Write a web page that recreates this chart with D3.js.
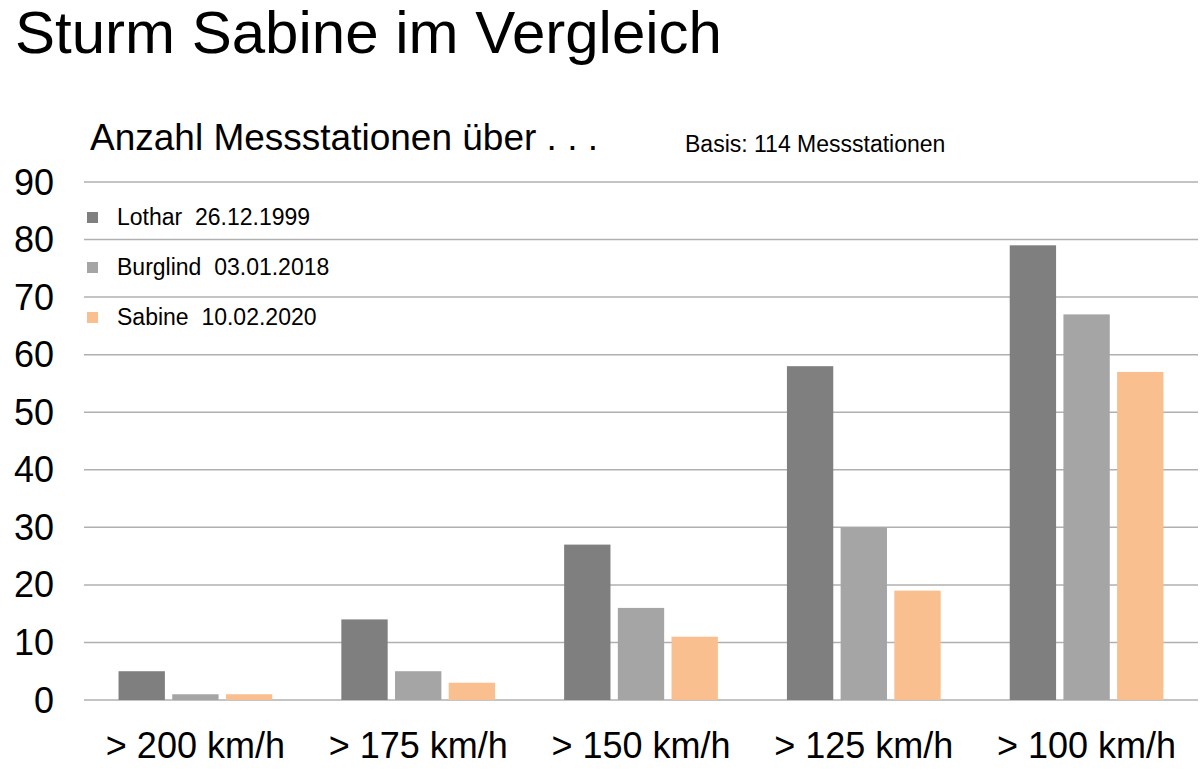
<!DOCTYPE html>
<html>
<head>
<meta charset="utf-8">
<script src="https://cdn.jsdelivr.net/npm/d3@7"></script>
<style>
  html, body { margin: 0; padding: 0; background: #fff; }
  svg { display: block; font-family: "Liberation Sans", Arial, sans-serif; }
  text { white-space: pre; }
</style>
</head>
<body>
<svg id="chart" width="1200" height="774"></svg>
<script>
const categories = ["> 200 km/h", "> 175 km/h", "> 150 km/h", "> 125 km/h", "> 100 km/h"];
const seriesNames = ["Lothar  26.12.1999", "Burglind  03.01.2018", "Sabine  10.02.2020"];
const lothar = [5, 14, 27, 58, 79];
const burglind = [1, 5, 16, 30, 67];
const sabine = [1, 3, 11, 19, 57];
const yTicks = [0, 10, 20, 30, 40, 50, 60, 70, 80, 90];
const colors = ["#7f7f7f", "#a5a5a5", "#f9bf8f"];

const seriesValues = [lothar, burglind, sabine];
const svg = d3.select("#chart");

const x0 = d3.scaleBand().domain(categories).range([84, 1198]).paddingInner(0.31).paddingOuter(0.155);
const x1 = d3.scaleBand().domain(d3.range(seriesNames.length)).range([0, x0.bandwidth()]).paddingInner(0.137);
const y = d3.scaleLinear().domain([0, 90]).range([700, 182]);

// Title
svg.append("text").attr("x", 15).attr("y", 53).attr("font-size", 60).attr("fill", "#000")
  .text("Sturm Sabine im Vergleich");
svg.append("text").attr("x", 90).attr("y", 150).attr("font-size", 37).attr("fill", "#000")
  .text("Anzahl Messstationen über . . .");
svg.append("text").attr("x", 685).attr("y", 152).attr("font-size", 23).attr("fill", "#000")
  .text("Basis: 114 Messstationen");

// Gridlines
svg.append("g").selectAll("line").data(yTicks).join("line")
  .attr("x1", 84).attr("x2", 1198)
  .attr("y1", d => y(d)).attr("y2", d => y(d))
  .attr("stroke", "#b0b0b0").attr("stroke-width", 1.5);

// Y tick labels
svg.append("g").selectAll("text").data(yTicks).join("text")
  .attr("x", 54).attr("y", d => y(d)).attr("dy", "0.35em")
  .attr("text-anchor", "end").attr("font-size", 36).attr("fill", "#000")
  .text(d => d);

// Bars
const groups = svg.append("g").selectAll("g").data(categories).join("g")
  .attr("transform", c => `translate(${x0(c)},0)`);
groups.selectAll("rect")
  .data((c, ci) => seriesValues.map((vals, si) => ({ si, v: vals[ci] })))
  .join("rect")
  .attr("x", d => x1(d.si))
  .attr("width", x1.bandwidth())
  .attr("y", d => y(d.v))
  .attr("height", d => y(0) - y(d.v))
  .attr("fill", d => colors[d.si]);

// X labels
svg.append("g").selectAll("text").data(categories).join("text")
  .attr("x", c => x0(c) + x0.bandwidth() / 2).attr("y", 758)
  .attr("text-anchor", "middle").attr("font-size", 36).attr("fill", "#000")
  .text(c => c);

// Legend
const leg = svg.append("g").selectAll("g").data(seriesNames).join("g")
  .attr("transform", (d, i) => `translate(87,${212 + i * 50})`);
leg.append("rect").attr("width", 11).attr("height", 11).attr("fill", (d, i) => colors[i]);
leg.append("text").attr("x", 30).attr("y", 13).attr("font-size", 23).attr("fill", "#000")
  .text(d => d);
</script>
</body>
</html>
